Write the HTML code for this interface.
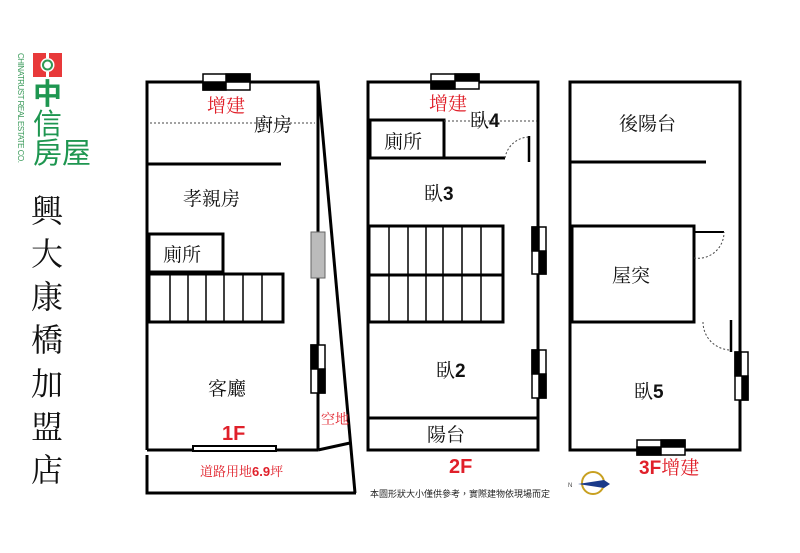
<!DOCTYPE html>
<html><head><meta charset="utf-8"><style>
html,body{margin:0;padding:0;background:#fff;}
svg{display:block;}
text{font-family:"Liberation Serif","Noto Serif CJK SC","Noto Sans CJK TC",serif;}
.s{font-family:"Liberation Sans","Noto Sans CJK TC",sans-serif;}
</style></head><body>
<svg width="800" height="553" viewBox="0 0 800 553" xmlns="http://www.w3.org/2000/svg">
<rect width="800" height="553" fill="#fff"/>
<!-- logo -->
<rect x="33" y="53" width="29" height="24" fill="#e8393a"/>
<circle cx="47.5" cy="65" r="7" fill="#fff"/>
<circle cx="47.5" cy="65" r="4.5" fill="none" stroke="#2e9a54" stroke-width="2"/>
<rect x="46" y="53" width="3" height="5" fill="#fff"/>
<rect x="46" y="72" width="3" height="5" fill="#fff"/>
<text x="33" y="104" font-size="29" fill="#1e9650" class="s" font-weight="bold">中</text>
<text x="33" y="134" font-size="29" fill="#1e9650" class="s">信</text>
<text x="33" y="163" font-size="29" fill="#1e9650" class="s">房屋</text>
<text transform="translate(18,53) rotate(90)" font-size="8" fill="#3a9a5a" class="s" textLength="110">CHINATRUST REAL ESTATE CO.</text>
<!-- vertical title -->
<g font-size="32" fill="#111" text-anchor="middle">
<text x="47" y="222">興</text><text x="47" y="265">大</text><text x="47" y="308">康</text>
<text x="47" y="351">橋</text><text x="47" y="395">加</text><text x="47" y="438">盟</text><text x="47" y="481">店</text>
</g>
<g stroke="#000" fill="none" stroke-width="3">
<!-- 1F -->
<polyline points="147,450 147,82 318,82 318,450"/>
<line x1="147" y1="450" x2="318" y2="450"/>
<line x1="318" y1="450" x2="350" y2="443"/>
<line x1="318" y1="82" x2="355" y2="493"/>
<polyline points="147,455 147,493 356,493"/>
<line x1="147" y1="164" x2="281" y2="164"/>
<rect x="149" y="234" width="74" height="38"/>
<rect x="149" y="274" width="134" height="48"/>
<!-- 2F -->
<rect x="368" y="82" width="170" height="368"/>
<line x1="368" y1="418" x2="538" y2="418"/>
<rect x="370" y="120" width="74" height="38"/>
<line x1="444" y1="158" x2="505" y2="158"/>
<line x1="529" y1="136" x2="529" y2="162" stroke-width="2.5"/>
<rect x="369" y="226" width="134" height="96"/>
<line x1="369" y1="275" x2="503" y2="275"/>
<!-- 3F -->
<rect x="570" y="82" width="170" height="368"/>
<line x1="570" y1="162" x2="706" y2="162"/>
<rect x="572" y="226" width="122" height="96"/>
<line x1="694" y1="232" x2="724" y2="232" stroke-width="2"/>
<line x1="731" y1="320" x2="731" y2="352" stroke-width="2.5"/>
</g>
<g stroke="#000" stroke-width="1.5">
<line x1="170" y1="274" x2="170" y2="322"/><line x1="188" y1="274" x2="188" y2="322"/><line x1="206" y1="274" x2="206" y2="322"/><line x1="224" y1="274" x2="224" y2="322"/><line x1="243" y1="274" x2="243" y2="322"/><line x1="262" y1="274" x2="262" y2="322"/>
<line x1="389" y1="226" x2="389" y2="322"/><line x1="408" y1="226" x2="408" y2="322"/><line x1="426" y1="226" x2="426" y2="322"/><line x1="443" y1="226" x2="443" y2="322"/><line x1="462" y1="226" x2="462" y2="322"/><line x1="481" y1="226" x2="481" y2="322"/>
</g>
<g stroke="#444" stroke-width="1" stroke-dasharray="2,2" fill="none">
<line x1="150" y1="123" x2="315" y2="123"/>
<line x1="444" y1="121" x2="537" y2="121"/>
<path d="M505,158 A25,25 0 0 1 529,137"/>
<path d="M694,258 A26,26 0 0 0 724,232"/>
<path d="M703,322 A28,28 0 0 0 730,350"/>
</g>
<!-- windows -->
<g stroke="#000" stroke-width="1.5">
<rect x="203" y="74" width="47" height="16" fill="#fff"/><rect x="226" y="74" width="24" height="8" fill="#000"/><rect x="203" y="82" width="23" height="8" fill="#000"/>
<rect x="431" y="74" width="48" height="15" fill="#fff"/><rect x="455" y="74" width="24" height="7" fill="#000"/><rect x="431" y="81" width="24" height="8" fill="#000"/>
<rect x="637" y="440" width="48" height="15" fill="#fff"/><rect x="661" y="440" width="24" height="7" fill="#000"/><rect x="637" y="447" width="24" height="8" fill="#000"/>
<rect x="311" y="345" width="14" height="48" fill="#fff"/><rect x="311" y="345" width="7" height="24" fill="#000"/><rect x="318" y="369" width="7" height="24" fill="#000"/>
<rect x="532" y="227" width="14" height="47" fill="#fff"/><rect x="532" y="227" width="7" height="24" fill="#000"/><rect x="539" y="251" width="7" height="23" fill="#000"/>
<rect x="532" y="350" width="14" height="48" fill="#fff"/><rect x="532" y="350" width="7" height="24" fill="#000"/><rect x="539" y="374" width="7" height="24" fill="#000"/>
<rect x="735" y="352" width="13" height="48" fill="#fff"/><rect x="735" y="352" width="6" height="24" fill="#000"/><rect x="742" y="376" width="6" height="24" fill="#000"/>
</g>
<rect x="311" y="232" width="14" height="46" fill="#bbb" stroke="#666"/>
<rect x="193" y="446" width="83" height="5" fill="#fff" stroke="#000" stroke-width="2"/>
<!-- labels -->
<g font-size="19" fill="#111">
<text x="254" y="131">廚房</text>
<text x="183" y="205">孝親房</text>
<text x="163" y="261">廁所</text>
<text x="208" y="395">客廳</text>
<text x="384" y="148">廁所</text>
<text x="427" y="441">陽台</text>
<text x="619" y="130">後陽台</text>
<text x="612" y="282">屋突</text>
</g>
<g font-size="19" fill="#111">
<text x="470" y="127">臥<tspan class="s" font-weight="bold">4</tspan></text>
<text x="424" y="200">臥<tspan class="s" font-weight="bold">3</tspan></text>
<text x="436" y="377">臥<tspan class="s" font-weight="bold">2</tspan></text>
<text x="634" y="398">臥<tspan class="s" font-weight="bold">5</tspan></text>
</g>
<g fill="#e0202a">
<text x="207" y="112" font-size="19">增建</text>
<text x="429" y="110" font-size="19">增建</text>
<text x="321" y="424" font-size="14">空地</text>
<text x="222" y="440" font-size="20" class="s" font-weight="bold">1F</text>
<text x="200" y="476" font-size="13">道路用地<tspan class="s" font-weight="bold">6.9</tspan>坪</text>
<text x="449" y="473" font-size="20" class="s" font-weight="bold">2F</text>
<text x="639" y="474" font-size="19"><tspan class="s" font-weight="bold">3F</tspan>增建</text>
</g>
<text x="370" y="497" font-size="9" fill="#222" class="s">本圖形狀大小僅供參考，實際建物依現場而定</text>
<circle cx="593" cy="483" r="11" fill="none" stroke="#c8a020" stroke-width="2"/>
<polygon points="578,484 604,480 610,484 604,488" fill="#1a3a8a"/>
<text x="568" y="487" font-size="6" fill="#444" class="s">N</text>
</svg>
</body></html>
